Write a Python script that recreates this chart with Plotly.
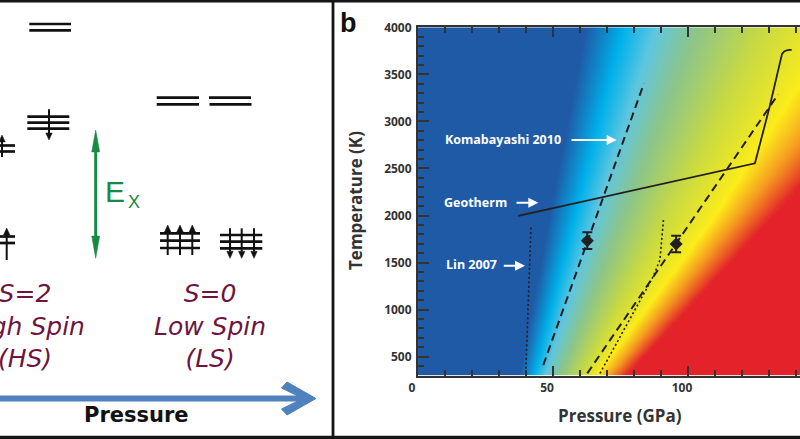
import numpy as np
import plotly.graph_objects as go

W, H = 800, 439

# ---------------- panel b : data ----------------
# colour field (low-spin fraction): pressure (GPa) of each colour level at three temperatures
field_T = [300, 2000, 4000]
field_levels = [0.0, 0.2, 0.35, 0.5, 0.65, 0.78, 0.88, 1.0]
field_P_300 = [37.5, 43.0, 47.0, 52.5, 60.0, 66.0, 71.0, 77.0]
field_P_2000 = [48.5, 58.0, 65.5, 76.0, 91.0, 110.0, 119.0, 131.5]
field_P_4000 = [62.0, 76.0, 88.0, 103.0, 127.0, 155.0, 175.0, 196.0]
field_colors = ['#1f5aa6', '#00b1ea', '#5fc6df', '#8cc58a', '#c6d944', '#fcec1a', '#f59c20', '#e3222a']

koma_P = [46.4, 83.7]
koma_T = [411, 3405]
dash2_P = [62.7, 133.4]
dash2_T = [323, 3288]
geo_P = [37.15, 124.8, 130.3, 134.1, 134.8, 135.6, 136.6, 137.6, 138.4]
geo_T = [1995, 2555, 3164, 3660, 3715, 3743, 3756, 3760, 3761]
lin1_P = [39.9, 40.9, 41.85]
lin1_T = [323, 1110, 1888]
lin2_P = [67.4, 87.1, 89.6, 90.2, 90.9]
lin2_T = [323, 1350, 1528, 1700, 1953]
pts_P = [62.7, 95.6]
pts_T = [1732, 1697]
pts_err = [89, 88]

x_ticks = [0, 50, 100]
y_ticks = [500, 1000, 1500, 2000, 2500, 3000, 3500, 4000]

# ---------------- panel a : diagram geometry (pixels) ----------------
level_lines = [
    (29.3, 71, 24), (29.3, 71, 30.3),
    (27.3, 69.3, 116.7), (27.3, 69.3, 122.7), (27.3, 69.3, 128.7),
    (0, 15, 145.5), (0, 15, 151.5),
    (0, 15, 236.5), (0, 15, 243.0),
    (156.7, 199, 97.7), (156.7, 199, 104.3),
    (209, 251, 97.7), (209.5, 251.5, 104.3),
    (160, 200, 233.3), (160, 200, 240.7), (160, 200, 248),
    (220, 262.3, 235), (220, 262.3, 241.7), (220, 262.3, 248.3),
]
spin_arrows = [  # x, tail y, tip y
    (49, 109.3, 140),
    (2, 157, 135),
    (6.7, 260, 228),
    (167.7, 255, 225), (180, 255, 225), (192.3, 255, 225),
    (230, 228.3, 258.3), (241.7, 228.3, 258.3), (254, 228.3, 258.3),
]


def fx(px):
    return px / W


def fy(py):
    return 1 - py / H


# ---------------- build colour field ----------------
Pgrid = np.linspace(0, 142, 569)
Tgrid = np.linspace(300, 4000, 75)
iso = np.array([field_P_300, field_P_2000, field_P_4000])
Z = np.empty((len(Tgrid), len(Pgrid)))
for i, T in enumerate(Tgrid):
    Piso = [np.interp(T, field_T, iso[:, k]) for k in range(len(field_levels))]
    Z[i] = np.interp(Pgrid, Piso, field_levels)
cscale = [[l, c] for l, c in zip(field_levels, field_colors)]

fig = go.Figure()
fig.add_trace(go.Heatmap(x=Pgrid, y=Tgrid, z=Z, colorscale=cscale, zmin=0, zmax=1,
                         showscale=False, zsmooth='best', hoverinfo='skip'))
ink = '#231f20'
fig.add_trace(go.Scatter(x=koma_P, y=koma_T, mode='lines',
                         line=dict(color=ink, width=2, dash='8px,5px')))
fig.add_trace(go.Scatter(x=dash2_P, y=dash2_T, mode='lines',
                         line=dict(color=ink, width=2, dash='8px,5px')))
fig.add_trace(go.Scatter(x=lin1_P, y=lin1_T, mode='lines',
                         line=dict(color=ink, width=1.6, dash='2px,2.5px')))
fig.add_trace(go.Scatter(x=lin2_P, y=lin2_T, mode='lines',
                         line=dict(color=ink, width=1.6, dash='2px,2.5px')))
fig.add_trace(go.Scatter(x=geo_P, y=geo_T, mode='lines', line=dict(color=ink, width=1.8)))
fig.add_trace(go.Scatter(x=pts_P, y=pts_T, mode='markers',
                         marker=dict(symbol='diamond', size=10, color=ink),
                         error_y=dict(type='data', array=pts_err, color=ink, thickness=2, width=5)))

xmax = (800 - 418) / 2.7
axfont = dict(family='Open Sans', size=12, color='#333', weight='bold')
fig.update_layout(
    width=W, height=H, margin=dict(l=0, r=0, t=0, b=0, autoexpand=False),
    paper_bgcolor='white', plot_bgcolor='white', showlegend=False,
    xaxis=dict(domain=[418 / W, 1.0], range=[0, xmax], showgrid=False, zeroline=False,
               showline=True, linecolor='#333', linewidth=2, mirror='allticks',
               ticks='inside', ticklen=10, tickwidth=2, tickcolor='#333',
               tickvals=x_ticks, ticklabelshift=-6,
               minor=dict(dtick=10, tick0=0, ticks='inside', ticklen=6, tickwidth=2, tickcolor='#333'),
               tickfont=axfont),
    yaxis=dict(domain=[fy(375.5), fy(27.3)], range=[300, 4000], showgrid=False, zeroline=False,
               showline=True, linecolor='#333', linewidth=2,
               ticks='inside', ticklen=11, tickwidth=2, tickcolor='#333',
               tickvals=y_ticks, ticklabelstandoff=2,
               minor=dict(dtick=100, tick0=0, ticks='inside', ticklen=6, tickwidth=2, tickcolor='#333'),
               tickfont=axfont),
)

ann = []
wfont = dict(family='Open Sans', size=12.5, color='white', weight='bold')


def px2P(px):
    return (px - 418) / 2.7


def py2T(py):
    return 4000 - (py - 27.3) / 0.0941


labels_b = [("Komabayashi 2010", 503, 139.3, 616.7, 140, -46.7),
            ("Geotherm", 475, 202.7, 538.3, 202.7, -23.3),
            ("Lin 2007", 471, 264.3, 525, 265.7, -22.7)]
for txt, cx, cy, tx, ty, axo in labels_b:
    ann.append(dict(x=px2P(cx), y=py2T(cy), xref='x', yref='y', text=txt, showarrow=False,
                    font=wfont, xanchor='center', yanchor='middle'))
    ann.append(dict(x=px2P(tx), y=py2T(ty), xref='x', yref='y', text='', showarrow=True,
                    ax=axo, ay=0, arrowcolor='white', arrowwidth=2, arrowhead=2, arrowsize=1))


def pann(text, cx, cy, font, **kw):
    d = dict(x=fx(cx), y=fy(cy), xref='paper', yref='paper', text=text, showarrow=False,
             xanchor='center', yanchor='middle', font=font)
    d.update(kw)
    ann.append(d)


pann('Temperature (K)', 355, 201, dict(family='Open Sans', size=17, color='#333', weight='bold'),
     textangle=-90)
pann('Pressure (GPa)', 620, 415.5, dict(family='Open Sans', size=17, color='#333', weight='bold'))
pann('b', 348, 23, dict(family='Liberation Sans', size=27, color='#111', weight='bold'))

maroon = '#6e1441'
pann('<i>S=2</i><br><i>High Spin</i><br><i>(HS)</i>', 25, 326,
     dict(family='DejaVu Sans', size=25, color=maroon))
pann('<i>S=0</i><br><i>Low Spin</i><br><i>(LS)</i>', 210, 326,
     dict(family='DejaVu Sans', size=25, color=maroon))
green = '#178a43'
pann('E', 115, 191, dict(family='Liberation Sans', size=30, color=green))
pann('X', 134.3, 201.7, dict(family='Liberation Sans', size=18, color=green))
pann('Pressure', 136, 415, dict(family='DejaVu Sans', size=21, color='#111', weight='bold'))

shapes = []
for x0, x1, y in level_lines:
    shapes.append(dict(type='line', xref='paper', yref='paper', x0=fx(x0), x1=fx(x1),
                       y0=fy(y), y1=fy(y), line=dict(color='#111', width=2.7)))


def tri(x, ytip, ybase, hw):
    return f"M {fx(x - hw)},{fy(ybase)} L {fx(x)},{fy(ytip)} L {fx(x + hw)},{fy(ybase)} Z"


for x, yt, yp in spin_arrows:
    d = 1 if yp > yt else -1
    ybase = yp - d * 7
    shapes.append(dict(type='line', xref='paper', yref='paper', x0=fx(x), x1=fx(x),
                       y0=fy(yt), y1=fy(ybase), line=dict(color='#111', width=2)))
    shapes.append(dict(type='path', xref='paper', yref='paper', path=tri(x, yp, ybase, 3.2),
                       fillcolor='#111', line=dict(color='#111', width=0.5)))

gx = 95.7
shapes.append(dict(type='line', xref='paper', yref='paper', x0=fx(gx), x1=fx(gx),
                   y0=fy(145), y1=fy(243), line=dict(color=green, width=3)))
shapes.append(dict(type='path', xref='paper', yref='paper', path=tri(gx, 130, 152, 4),
                   fillcolor=green, line=dict(color=green, width=0.5)))
shapes.append(dict(type='path', xref='paper', yref='paper', path=tri(gx, 258.3, 236, 4),
                   fillcolor=green, line=dict(color=green, width=0.5)))

blue = '#4f81bd'
shapes.append(dict(type='line', xref='paper', yref='paper', x0=fx(0), x1=fx(306),
                   y0=fy(398.5), y1=fy(398.5), line=dict(color=blue, width=6)))
chev = [(316, 398.5), (287, 382), (281.5, 388), (303, 398.5), (281.5, 409), (287, 415)]
path = "M " + " L ".join(f"{fx(a)},{fy(b)}" for a, b in chev) + " Z"
shapes.append(dict(type='path', xref='paper', yref='paper', path=path, fillcolor=blue,
                   line=dict(color=blue, width=1)))

frame = '#151515'
shapes.append(dict(type='line', xref='paper', yref='paper', x0=0, x1=1, y0=fy(1.3), y1=fy(1.3),
                   line=dict(color=frame, width=2.6)))
shapes.append(dict(type='line', xref='paper', yref='paper', x0=0, x1=1, y0=fy(437.4), y1=fy(437.4),
                   line=dict(color=frame, width=3.2)))
shapes.append(dict(type='line', xref='paper', yref='paper', x0=fx(333), x1=fx(333), y0=0, y1=1,
                   line=dict(color=frame, width=2.8)))

fig.update_layout(annotations=ann, shapes=shapes)
fig.write_html("out.html", post_script="document.body.style.margin='0';")
